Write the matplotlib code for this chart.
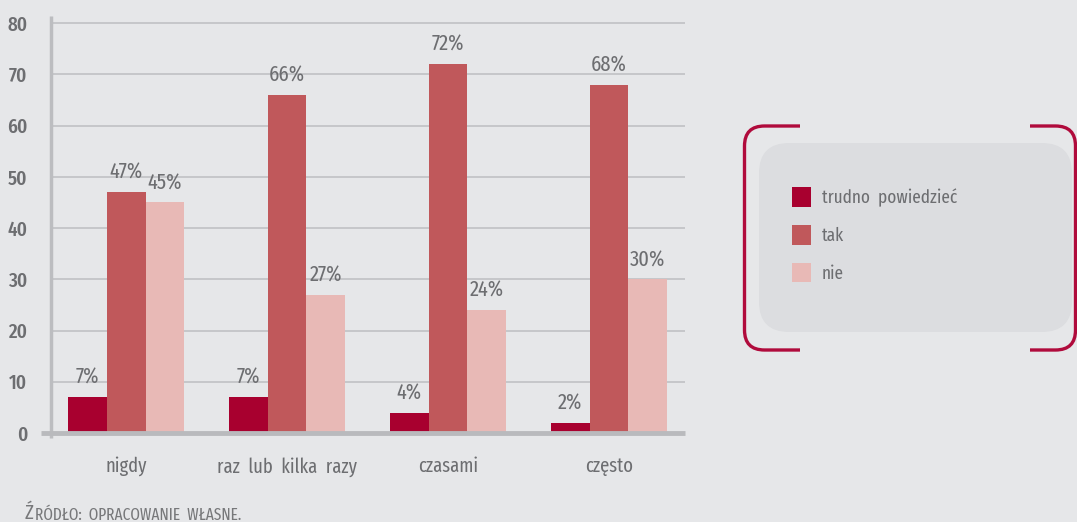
import matplotlib
matplotlib.use("Agg")
import matplotlib.pyplot as plt
from matplotlib.patches import FancyBboxPatch, PathPatch
from matplotlib.path import Path
from matplotlib.lines import Line2D
import numpy as np

plt.rcParams['font.family'] = ['Fira Sans Extra Condensed', 'DejaVu Sans']

categories = ['nigdy', 'raz  lub  kilka  razy', 'czasami', 'często']
series_names = ['trudno  powiedzieć', 'tak', 'nie']
trudno = [7, 7, 4, 2]
tak = [47, 66, 72, 68]
nie = [45, 27, 24, 30]
yticks = [0, 10, 20, 30, 40, 50, 60, 70, 80]

colors = ['#a8002f', '#c0585b', '#e8b9b6']
bg = '#e6e7e9'
text_grey = '#6d6e71'
line_grey = '#c3c4c7'
bracket_red = '#b00b3c'

W, H = 1077, 522
fig = plt.figure(figsize=(W / 100, H / 100), dpi=100, facecolor=bg)

# plot area in pixels: left axis at 51, right end 685, zero line at 433, top at 16
ax = fig.add_axes([51 / W, 1 - 433 / H, (685 - 51) / W, (433 - 16) / H])
ax.set_facecolor(bg)
ax.set_xlim(-0.466, 3.472)
ax.set_ylim(0, 81.4)

x = np.arange(len(categories))
w = 0.242
for i, (vals, name) in enumerate(zip([trudno, tak, nie], series_names)):
    bars = ax.bar(x + (i - 1) * w, vals, width=w, color=colors[i], label=name, zorder=3)
    for b, v in zip(bars, vals):
        ax.text(b.get_x() + b.get_width() / 2, v + 1.7, f'{v}%', ha='center', va='bottom',
                fontsize=16, color=text_grey, zorder=4)

for y in yticks[1:]:
    ax.axhline(y, xmin=2 / 634, xmax=1, color=line_grey, lw=1.3, zorder=1)

for s in ax.spines.values():
    s.set_visible(False)

# left axis line and thick baseline
ax.add_line(Line2D([0, 0], [(433 - 438) / 417, 1], transform=ax.transAxes,
                   color='#bcbdc0', lw=2.5, clip_on=False, zorder=2, solid_capstyle='butt'))
ax.add_line(Line2D([-10 / 634, 1], [0, 0], transform=ax.transAxes,
                   color='#b9babd', lw=3.5, clip_on=False, zorder=5, solid_capstyle='butt'))

ax.set_yticks(yticks)
ax.set_yticklabels([str(t) for t in yticks])
ax.set_xticks(x)
ax.set_xticklabels(categories)
ax.tick_params(axis='y', length=0, pad=17, labelsize=15, labelcolor=text_grey)
ax.tick_params(axis='x', length=0, pad=17, labelsize=14.5, labelcolor=text_grey)
for t in ax.get_yticklabels():
    t.set_fontweight('medium')

# legend panel with red corner brackets
fig.patches.append(FancyBboxPatch((759 / W, 1 - 332 / H), (1072 - 759) / W, (332 - 143) / H,
                                  boxstyle='round,pad=0,rounding_size=0.028',
                                  transform=fig.transFigure, facecolor='#dcdde0',
                                  edgecolor='none', mutation_aspect=W / H))


def bracket(x_end, x_side, y_top, y_bot, r):
    sgn = 1 if x_end > x_side else -1
    verts = [(x_end, y_top), (x_side + sgn * r, y_top), (x_side, y_top), (x_side, y_top + r),
             (x_side, y_bot - r), (x_side, y_bot), (x_side + sgn * r, y_bot), (x_end, y_bot)]
    codes = [Path.MOVETO, Path.LINETO, Path.CURVE3, Path.CURVE3,
             Path.LINETO, Path.CURVE3, Path.CURVE3, Path.LINETO]
    verts = [(vx / W, 1 - vy / H) for vx, vy in verts]
    return PathPatch(Path(verts, codes), transform=fig.transFigure, facecolor='none',
                     edgecolor=bracket_red, lw=2.4, capstyle='butt')


fig.patches.append(bracket(800, 744.5, 126, 350, 20))
fig.patches.append(bracket(1030, 1075.5, 126, 350, 20))

handles, labels = ax.get_legend_handles_labels()
leg = fig.legend(handles, labels, loc='upper left', bbox_to_anchor=(792 / W, 1 - 187 / H),
                 frameon=False, fontsize=13.5, handlelength=1.0, handleheight=1.25,
                 labelspacing=0.95, handletextpad=0.6, borderpad=0, borderaxespad=0)
for t in leg.get_texts():
    t.set_color(text_grey)

# source line in small caps
src = fig.text(25 / W, 1 - 519 / H, 'Ź', fontsize=15, color='#77787a', va='baseline')
ax.annotate('RÓDŁO:  OPRACOWANIE  WŁASNE.', xy=(1, 0), xycoords=src, xytext=(0.5, 0),
            textcoords='offset points', fontsize=12, color='#77787a', va='bottom',
            annotation_clip=False)

fig.savefig('out.png', dpi=100, facecolor=bg)
